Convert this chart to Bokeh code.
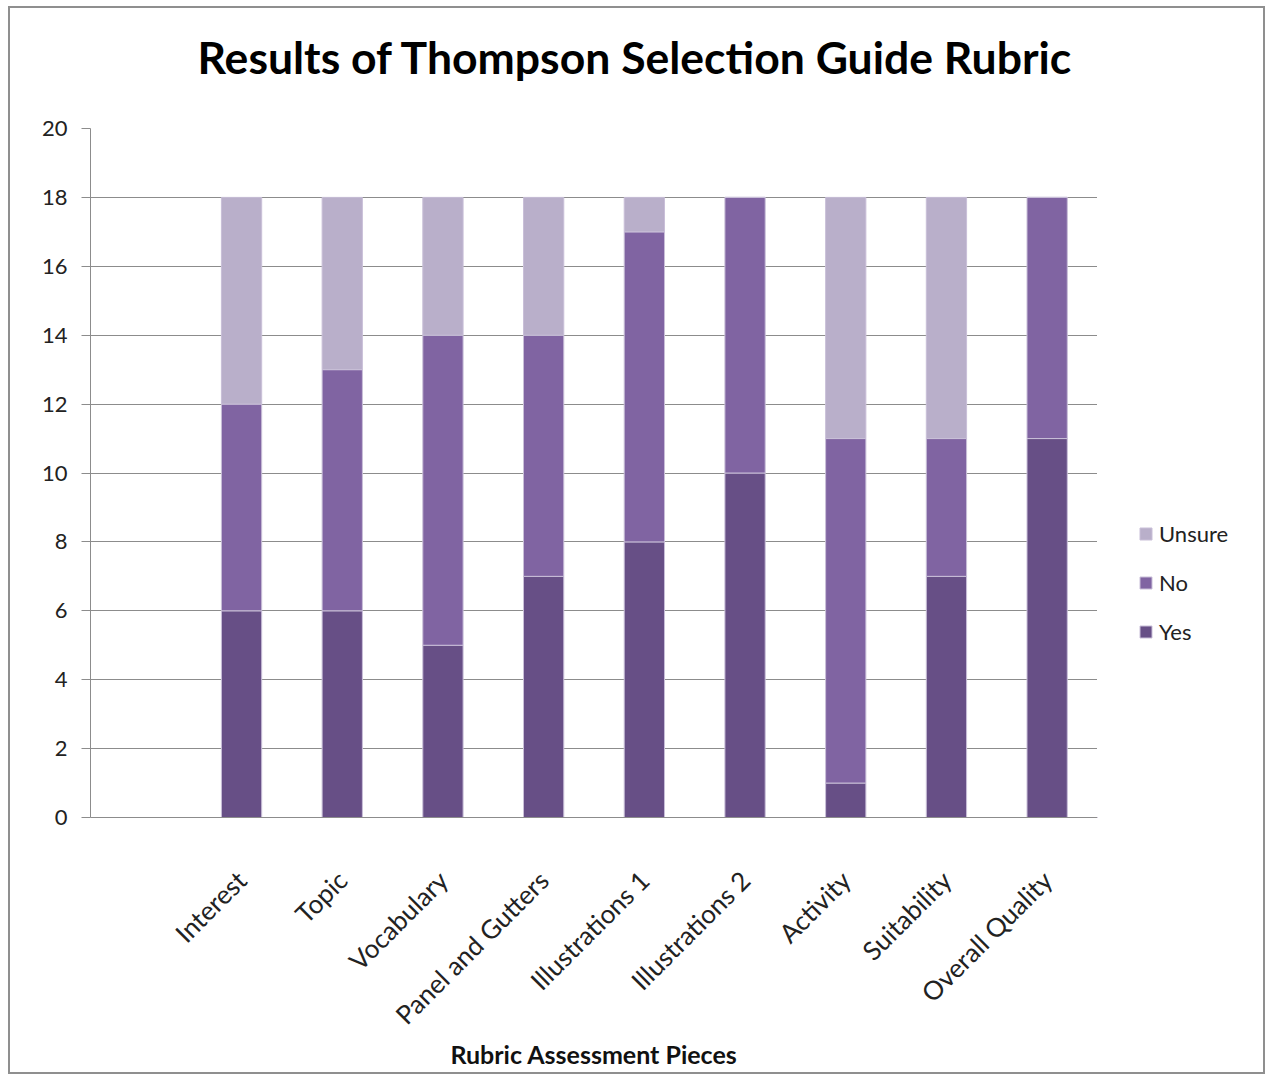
from bokeh.plotting import figure
from bokeh.models import (FactorRange, Legend, LegendItem, ColumnDataSource,
                          SingleIntervalTicker, Row, Title)
from bokeh.embed import file_html
from bokeh.resources import INLINE
from math import pi

categories = ["Interest", "Topic", "Vocabulary", "Panel and Gutters", "Illustrations 1",
              "Illustrations 2", "Activity", "Suitability", "Overall Quality"]
yes = [6, 6, 5, 7, 8, 10, 1, 7, 11]
no = [6, 7, 9, 7, 9, 8, 10, 4, 7]
unsure = [6, 5, 4, 4, 1, 0, 7, 7, 0]
series = ["Yes", "No", "Unsure"]
colors = ["#674F86", "#8064A2", "#B9AFCA"]

FONT = "Lato"
W, H, LW = 1253, 1064, 166

src = ColumnDataSource(dict(cat=categories, Yes=yes, No=no, Unsure=unsure))

p = figure(x_range=FactorRange(factors=[" "] + categories, range_padding=0),
           y_range=(0, 20), width=W - LW, height=H,
           output_backend="svg", toolbar_location=None,
           min_border_left=80, min_border_right=0, min_border_top=0, min_border_bottom=255)

r = p.vbar_stack(series, x="cat", width=0.4, source=src, color=colors,
                 line_color="#C9BFD8", line_width=1)

p.title.text = "Results of Thompson Selection Guide Rubric"
p.title.text_font = FONT
p.title.text_font_size = "44.5px"
p.title.text_font_style = "bold"
p.title.align = "left"
p.title.offset = 107
p.title.standoff = 38
p.title.text_color = "#000000"

# spacer between title and plot area
p.add_layout(Title(text=" ", text_font_size="1px", standoff=24), "above")

p.outline_line_color = None
p.background_fill_color = "white"
p.border_fill_color = "white"

p.xgrid.grid_line_color = None
p.ygrid.grid_line_color = "#8C8C8C"
p.ygrid.grid_line_width = 1

p.yaxis.ticker = SingleIntervalTicker(interval=2)
p.yaxis.axis_line_color = "#8C8C8C"
p.yaxis.major_tick_line_color = "#8C8C8C"
p.yaxis.major_tick_out = 9
p.yaxis.major_tick_in = 0
p.yaxis.minor_tick_line_color = None
p.yaxis.major_label_text_font = FONT
p.yaxis.major_label_text_font_size = "22px"
p.yaxis.major_label_text_color = "#222222"
p.yaxis.major_label_standoff = 14

p.xaxis.axis_line_color = "#8C8C8C"
p.xaxis.major_tick_line_color = None
p.xaxis.minor_tick_line_color = None
p.xaxis.major_label_orientation = pi / 4
p.xaxis.major_label_text_font = FONT
p.xaxis.major_label_text_font_size = "26px"
p.xaxis.major_label_text_color = "#222222"
p.xaxis.major_label_standoff = 52
p.xaxis.axis_label = "Rubric Assessment Pieces"
p.xaxis.axis_label_text_font = FONT
p.xaxis.axis_label_text_font_size = "25px"
p.xaxis.axis_label_text_font_style = "bold"
p.xaxis.axis_label_text_color = "#111111"
p.xaxis.axis_label_standoff = -6

# legend panel as a separate, axis-less figure
lp = figure(width=LW, height=H, output_backend="svg", toolbar_location=None,
            x_range=(0, 1), y_range=(0, 1), min_border=0)
lp.axis.visible = False
lp.grid.visible = False
lp.outline_line_color = None
lp.background_fill_color = "white"
lp.border_fill_color = "white"
dummy = ColumnDataSource(dict(x=[-5], top=[-5]))
lrs = {s: lp.vbar(x="x", top="top", width=0.1, source=dummy, color=c, line_color="#C9BFD8")
       for s, c in zip(series, colors)}
items = [LegendItem(label=s, renderers=[lrs[s]]) for s in series[::-1]]
legend = Legend(items=items, location=(41, 172), orientation="vertical",
                glyph_width=15, glyph_height=15, spacing=22, padding=0, margin=0,
                label_text_font=FONT, label_text_font_size="22px", label_text_color="#222222",
                label_standoff=6, border_line_color=None, background_fill_alpha=0)
lp.add_layout(legend, "center")

layout = Row(children=[p, lp], spacing=0,
             styles={"border": "2px solid #8F8F8F", "margin": "6px 0 0 8px"})

open("out.html", "w").write(file_html(layout, INLINE))
